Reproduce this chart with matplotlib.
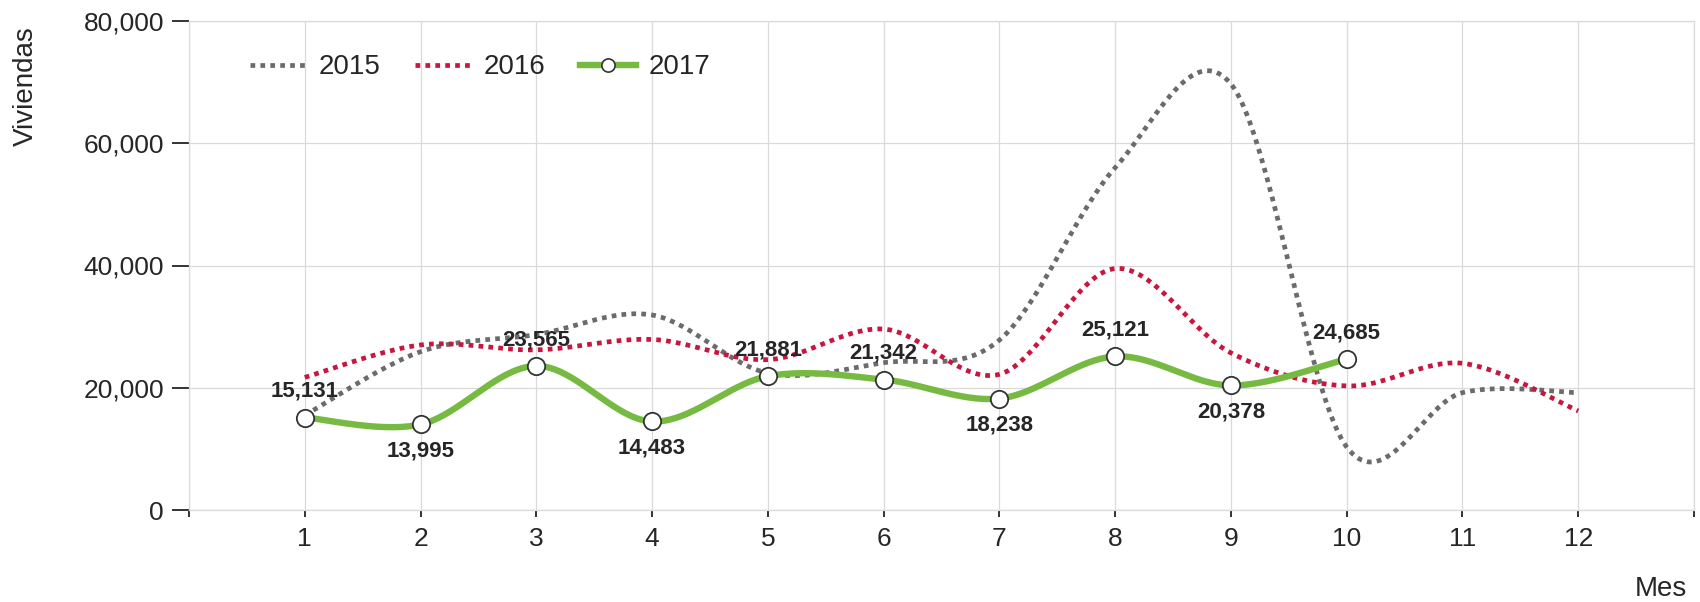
import numpy as np
import matplotlib

matplotlib.use("Agg")
import matplotlib.pyplot as plt
from matplotlib.lines import Line2D
from matplotlib.ticker import FuncFormatter

plt.rcParams["font.family"] = ["Liberation Sans", "DejaVu Sans"]

months = list(range(1, 13))
v2015 = [15500, 25900, 28700, 31900, 22400, 24100, 27800, 56000, 69700, 10300, 19200, 19200]
v2016 = [21700, 27000, 26200, 27900, 24600, 29600, 22200, 39500, 25700, 20300, 24000, 16200]
v2017 = [15131, 13995, 23565, 14483, 21881, 21342, 18238, 25121, 20378, 24685]
years = ["2015", "2016", "2017"]

GRAY = "#6b6b6b"
RED = "#c8163f"
GREEN = "#76ba42"
INK = "#262626"
GRID = "#dadada"


def cardinal(x, y, n=40):
    # catmull-rom through the points, end points doubled (d3 curveCardinal look)
    p = np.column_stack([x, y]).astype(float)
    p = np.vstack([p[:1], p, p[-1:]])
    t = np.linspace(0, 1, n)[:, None]
    h00 = 2 * t**3 - 3 * t**2 + 1
    h10 = t**3 - 2 * t**2 + t
    h01 = -2 * t**3 + 3 * t**2
    h11 = t**3 - t**2
    segs = []
    for i in range(1, len(p) - 2):
        m1 = (p[i + 1] - p[i - 1]) / 2
        m2 = (p[i + 2] - p[i]) / 2
        segs.append(h00 * p[i] + h10 * m1 + h01 * p[i + 1] + h11 * m2)
    out = np.vstack(segs)
    return out[:, 0], out[:, 1]


fig = plt.figure(figsize=(17, 6.02), dpi=100)
ax = fig.add_axes([189 / 1700, 92 / 602, 1505 / 1700, 489 / 602])

dots = (0, (1, 1.1))
x, y = cardinal(months, v2015)
ax.plot(x, y, color=GRAY, lw=3.4, linestyle=dots, dash_capstyle="butt", zorder=3)
x, y = cardinal(months, v2016)
ax.plot(x, y, color=RED, lw=3.4, linestyle=dots, dash_capstyle="butt", zorder=3)
m17 = months[: len(v2017)]
x, y = cardinal(m17, v2017)
ax.plot(x, y, color=GREEN, lw=4.6, solid_capstyle="round", zorder=4)
ax.plot(m17, v2017, "o", ms=12.5, mfc="white", mec="#333333", mew=1.3, zorder=5)

for i, v in enumerate(v2017):
    prev_v = v2017[i - 1] if i > 0 else np.inf
    next_v = v2017[i + 1] if i < len(v2017) - 1 else np.inf
    below = v < prev_v and v < next_v
    ax.annotate(f"{v:,}", (m17[i], v), xytext=(0, -19 if below else 19), textcoords="offset points",
                ha="center", va="center", fontsize=16, fontweight="bold", color=INK, zorder=6)

ax.set_xlim(0, 13)
ax.set_ylim(0, 80000)
ax.set_xticks(range(0, 14))
ax.set_xticklabels([""] + [str(m) for m in months] + [""])
ax.set_yticks(range(0, 80001, 20000))
ax.yaxis.set_major_formatter(FuncFormatter(lambda v, _: f"{int(v):,}"))
ax.grid(True, color=GRID, lw=0.9, zorder=0)
ax.set_axisbelow(True)
for s in ax.spines.values():
    s.set_color(GRID)
    s.set_linewidth(0.9)
ax.tick_params(axis="y", direction="out", length=12, width=1.4, color="#333333", pad=6, labelsize=19, labelcolor=INK)
ax.tick_params(axis="x", direction="out", length=5, width=1.4, color="#333333", pad=7, labelsize=19, labelcolor=INK)

handles = [
    Line2D([], [], color=GRAY, lw=3.4, linestyle=dots, dash_capstyle="butt"),
    Line2D([], [], color=RED, lw=3.4, linestyle=dots, dash_capstyle="butt"),
    Line2D([], [], color=GREEN, lw=4.6, marker="o", ms=9.5, mfc="white", mec="#333333", mew=1.2),
]
ax.legend(handles, years, loc="center left", bbox_to_anchor=(0.0405, 0.905), ncol=3, frameon=False,
          fontsize=20, handlelength=2.0, handletextpad=0.47, columnspacing=1.25, borderpad=0, borderaxespad=0,
          labelcolor=INK)

fig.text(26 / 1700, 1 - 26 / 602, "Viviendas", rotation=90, ha="center", va="top", fontsize=20, color=INK)
fig.text(1687 / 1700, 6 / 602, "Mes", ha="right", va="baseline", fontsize=20, color=INK)

fig.savefig("out.png", dpi=100)
